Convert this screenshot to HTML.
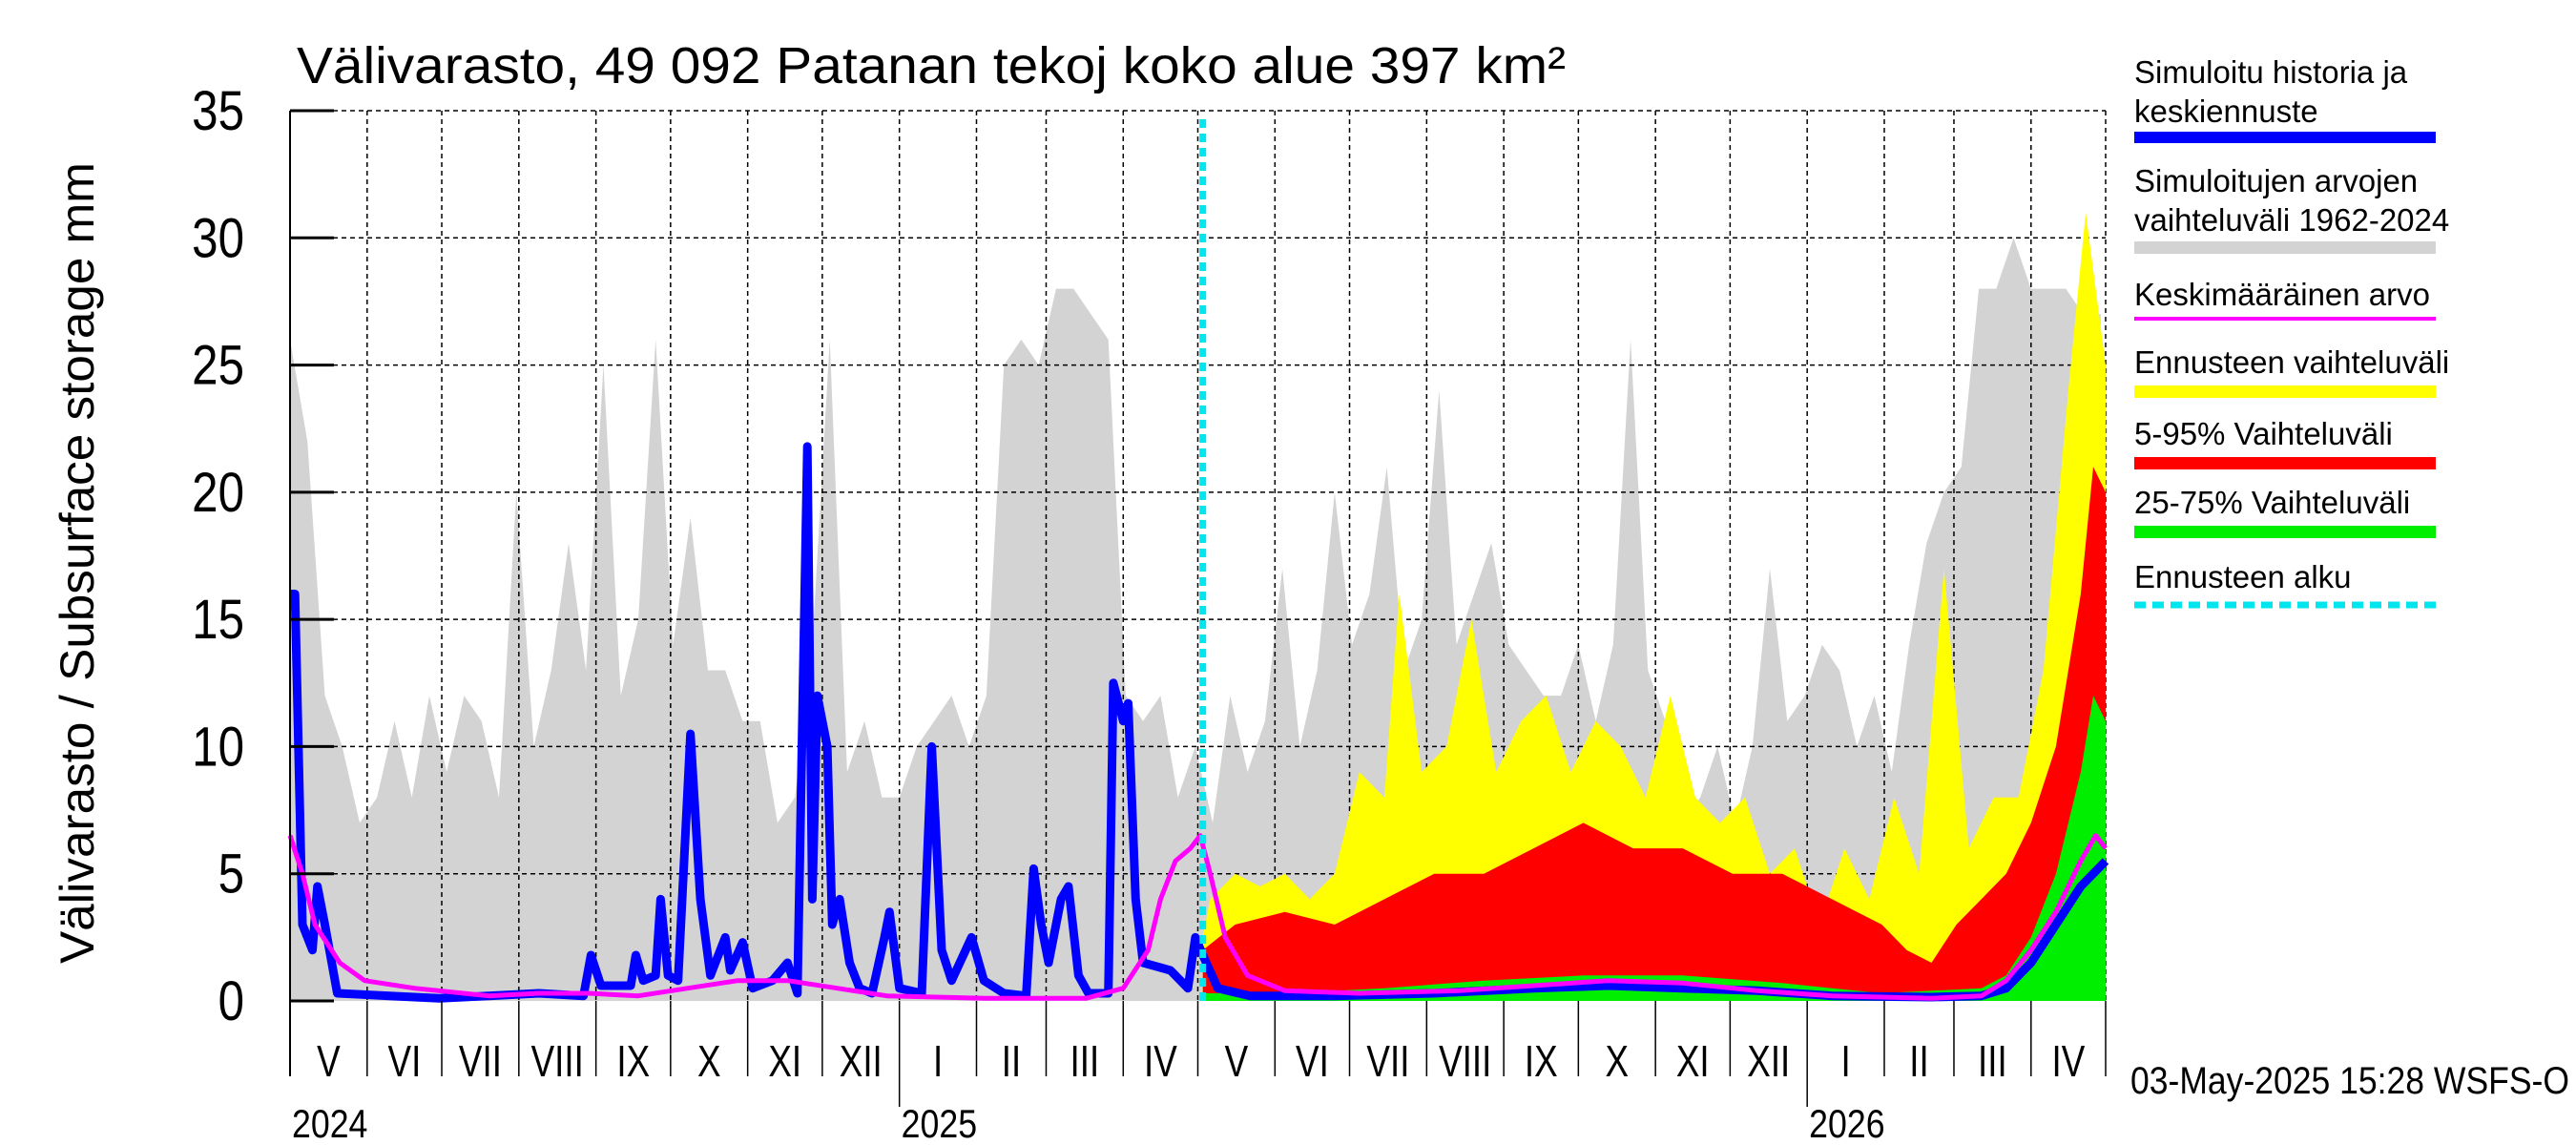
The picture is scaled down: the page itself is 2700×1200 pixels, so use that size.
<!DOCTYPE html>
<html><head><meta charset="utf-8"><style>
html,body{margin:0;padding:0;background:#fff;}
svg{display:block;font-family:"Liberation Sans",sans-serif;}
</style></head><body>
<svg id="chart" width="2700" height="1200" viewBox="0 0 2700 1200">
<g id="plot"></g>
</svg>
<script>
// ---- data ----
const grayWeeks=[26,22,12,10,7,8,11,8,12,9,12,11,8,20,10,13,18,13,25,12,15,26,14,19,13,13,11,11,7,8,14,26,9,11,8,8,10,11,12,10,12,25,26,25,28,28,27,26,12,11,12,8,10,7,12,9,11,17,10,13,20,14,16,21,13,15,24,14,16,18,14,13,12,12,14,11,14,26,13,11,7,8,10,7,10,17,11,12,14,13,10,12,9,14,18,20,21,28,28,30,28,28,28,27,27];
const blueDays=[0,2,5,9,11,14,19,40,60,80,100,118,121,125,137,139,142,147,149,152,156,161,165,169,175,177,182,186,194,200,204,208,210,212,216,218,221,225,229,234,239,241,245,254,258,262,266,274,279,287,296,299,302,305,310,313,317,321,329,331,335,337,340,343,354,361,364,367,373,386,420,460,500,530,560,590,620,660,680,690,700,710,720,730];
const blueVals=[16,16,3,2,4.5,3,0.3,0.2,0.1,0.2,0.3,0.2,1.8,0.6,0.6,1.8,0.8,1,4,1,0.8,10.5,4,1,2.5,1.2,2.3,0.5,0.8,1.5,0.3,21.8,4,12,10,3,4,1.5,0.5,0.3,2.5,3.5,0.5,0.3,10,2,0.8,2.5,0.8,0.3,0.2,5.2,3,1.5,4,4.5,1,0.3,0.3,12.5,11,11.7,4,1.5,1.2,0.5,2.5,1.8,0.5,0.2,0.2,0.3,0.5,0.6,0.5,0.4,0.2,0.15,0.2,0.5,1.5,3,4.5,5.5];
const meanDays=[0,5,10,20,30,50,80,100,120,140,160,180,200,220,240,280,320,335,345,350,356,362,366,370,376,385,400,430,470,500,530,560,590,620,660,680,690,700,710,720,726,730];
const meanVals=[6.5,5,3,1.5,0.8,0.5,0.2,0.3,0.3,0.2,0.5,0.8,0.8,0.5,0.2,0.1,0.1,0.5,2,4,5.5,6,6.5,5,2.5,1,0.4,0.3,0.4,0.6,0.8,0.7,0.4,0.2,0.1,0.2,0.8,2,3.5,5.5,6.5,6];
const yellowDays=[367,370,380,390,400,410,420,430,440,446,455,465,475,485,495,505,515,525,535,545,555,565,575,585,595,605,615,625,635,645,655,665,675,685,695,705,715,722,730];
const yellowVals=[2.5,4,5,4.5,5,4,5,9,8,16,9,10,15,9,11,12,9,11,10,8,12,8,7,8,5,6,3,6,4,8,5,17,6,8,8,13,24,31,25];
const redDays=[367,380,400,420,440,460,480,500,520,540,560,580,600,620,640,650,660,670,680,690,700,710,720,725,730];
const redVals=[2,3,3.5,3,4,5,5,6,7,6,6,5,5,4,3,2,1.5,3,4,5,7,10,16,21,20];
const greenDays=[367,400,440,480,520,560,600,640,680,690,700,710,720,725,730];
const greenVals=[0.3,0.3,0.5,0.8,1,1,0.7,0.3,0.5,1,2.5,5,9,12,11];
const yTicks=[0,5,10,15,20,25,30,35];
const monthLabels=["V","VI","VII","VIII","IX","X","XI","XII","I","II","III","IV","V","VI","VII","VIII","IX","X","XI","XII","I","II","III","IV"];
const monthLens=[31,30,31,31,30,31,30,31,31,28,31,30,31,30,31,31,30,31,30,31,31,28,31,30];
const yearLabels=["2024","2025","2026"];
const yearDays=[0,245,610];
const forecastDay=367;

// ---- scales ----
const X0=304,X1=2207,Y0=1049,Y35=116,TOTAL=730;
const xs=d=>X0+(X1-X0)*d/TOTAL;
const ys=v=>Y0-(Y0-Y35)*v/35;
const NS="http://www.w3.org/2000/svg";
const plot=document.getElementById('plot');
function mk(tag,attrs,parent){const e=document.createElementNS(NS,tag);for(const k in attrs)e.setAttribute(k,attrs[k]);(parent||plot).appendChild(e);return e;}
function areaPath(days,vals){let d='M'+xs(days[0])+','+ys(0);days.forEach((t,i)=>{d+=' L'+xs(t).toFixed(1)+','+ys(vals[i]).toFixed(1);});d+=' L'+xs(days[days.length-1])+','+ys(0)+' Z';return d;}
function linePath(days,vals){return days.map((t,i)=>(i?'L':'M')+xs(t).toFixed(1)+','+ys(vals[i]).toFixed(1)).join(' ');}

const gDays=grayWeeks.map((v,i)=>Math.min(i*7,TOTAL));
let el=mk('path',{d:areaPath(gDays,grayWeeks),fill:'#d3d3d3'});



yTicks.forEach(v=>{if(v===0)return;
 let g=mk('line',{x1:X0,x2:X1,y1:ys(v),y2:ys(v),stroke:'#000','stroke-width':1.5,'stroke-dasharray':'5,4'});
 
 
});
let cum=0;const monthStarts=[0];
monthLens.forEach(l=>{cum+=l;monthStarts.push(cum);});
monthStarts.forEach((d,i)=>{if(i===0)return;
 let g=mk('line',{x1:xs(d),x2:xs(d),y1:Y35,y2:Y0,stroke:'#000','stroke-width':1.5,'stroke-dasharray':'5,4'});
 
 
});

el=mk('path',{d:areaPath(yellowDays,yellowVals),fill:'#ffff00'});


el=mk('path',{d:areaPath(redDays,redVals),fill:'#ff0000'});


el=mk('path',{d:areaPath(greenDays,greenVals),fill:'#00ee00'});



el=mk('path',{d:linePath(blueDays,blueVals),fill:'none',stroke:'#0000ff','stroke-width':9,'stroke-linejoin':'round'});


el=mk('path',{d:linePath(meanDays,meanVals),fill:'none',stroke:'#ff00ff','stroke-width':5,'stroke-linejoin':'round'});



el=mk('line',{x1:xs(forecastDay),x2:xs(forecastDay),y1:125,y2:Y0,stroke:'#00e5ee','stroke-width':7,'stroke-dasharray':'9,6'});



el=mk('line',{x1:X0,x2:X0,y1:Y35,y2:1128,stroke:'#000','stroke-width':2});


yTicks.forEach(v=>{
 let t=mk('line',{x1:X0,x2:X0+46,y1:ys(v),y2:ys(v),stroke:'#000','stroke-width':3});
 
 
 let tx=mk('text',{transform:'translate(256,'+(ys(v)+20)+') scale(0.85,1)','font-size':58,'text-anchor':'end'});
 tx.textContent=v;
 
 
});
monthStarts.forEach((d,i)=>{
 const isYear=yearDays.indexOf(d)>0;
 let t=mk('line',{x1:xs(d),x2:xs(d),y1:Y0,y2:isYear?1160:1128,stroke:'#000','stroke-width':1.5});
 
 
});
monthLabels.forEach((m,i)=>{
 const cx=(xs(monthStarts[i])+xs(monthStarts[i+1]))/2;
 let tx=mk('text',{transform:'translate('+cx+',1128) scale(0.8,1)','font-size':46,'text-anchor':'middle'});
 tx.textContent=m;
 
 
});
yearLabels.forEach((y,i)=>{
 let tx=mk('text',{transform:'translate('+(xs(yearDays[i])+2)+',1192) scale(0.85,1)','font-size':42});
 tx.textContent=y;
 
 
});
</script>
<div style="position:absolute;left:0;top:0;width:2700px;height:1200px;pointer-events:none">
<svg width="2700" height="1200" style="font-family:'Liberation Sans',sans-serif">
<text x="311" y="87" font-size="54" textLength="1330" lengthAdjust="spacingAndGlyphs">Välivarasto, 49 092 Patanan tekoj koko alue 397 km²</text>
<text transform="translate(98,590) rotate(-90)" font-size="50" text-anchor="middle" textLength="840" lengthAdjust="spacingAndGlyphs">Välivarasto / Subsurface storage  mm</text>
<text x="2233" y="1146" font-size="40" textLength="460" lengthAdjust="spacingAndGlyphs">03-May-2025 15:28 WSFS-O</text>
<g font-size="33">
<text x="2237" y="87">Simuloitu historia ja</text>
<text x="2237" y="128">keskiennuste</text>
<rect x="2237" y="138" width="316" height="12" fill="#0000ff"/>
<text x="2237" y="201">Simuloitujen arvojen</text>
<text x="2237" y="242">vaihteluväli 1962-2024</text>
<rect x="2237" y="253" width="316" height="13" fill="#d3d3d3"/>
<text x="2237" y="320">Keskimääräinen arvo</text>
<rect x="2237" y="332" width="316" height="4" fill="#ff00ff"/>
<text x="2237" y="391">Ennusteen vaihteluväli</text>
<rect x="2237" y="404" width="316" height="13" fill="#ffff00"/>
<text x="2237" y="466">5-95% Vaihteluväli</text>
<rect x="2237" y="479" width="316" height="13" fill="#ff0000"/>
<text x="2237" y="538">25-75% Vaihteluväli</text>
<rect x="2237" y="551" width="316" height="13" fill="#00ee00"/>
<text x="2237" y="616">Ennusteen alku</text>
<line x1="2237" y1="634" x2="2553" y2="634" stroke="#00e5ee" stroke-width="7" stroke-dasharray="12,7"/>
</g>
</svg>
</div>
</body></html>
